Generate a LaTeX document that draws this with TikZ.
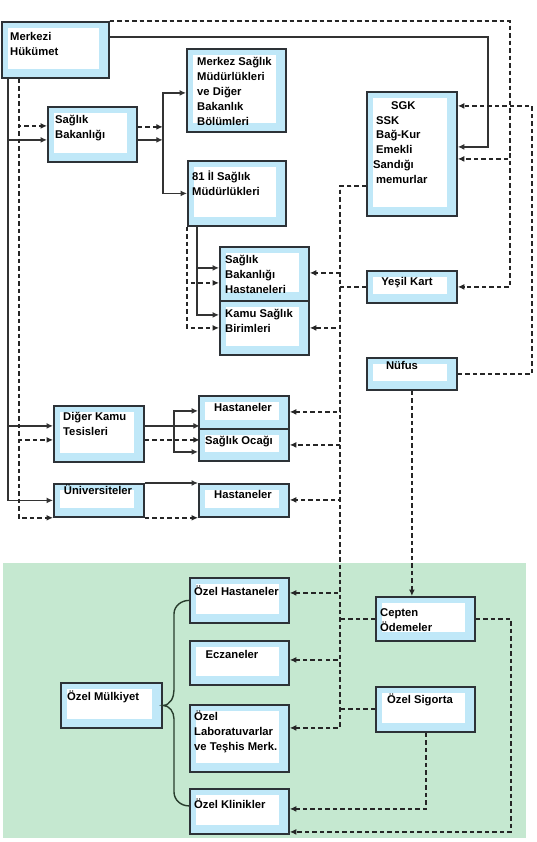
\documentclass[tikz,border=0pt]{standalone}
\usepackage{fontspec}
\setmainfont{Liberation Sans}
\usetikzlibrary{arrows.meta}
\definecolor{boxblue}{RGB}{192,232,248}
\definecolor{boxline}{RGB}{45,50,55}
\definecolor{privgreen}{RGB}{197,232,208}
\definecolor{braceline}{RGB}{40,60,45}

\begin{document}
\begin{tikzpicture}[x=1bp, y=-1bp, >={Latex[length=6.5bp,width=6bp]},
    box/.style={draw=boxline, line width=1.8bp, fill=boxblue, anchor=north west, inner sep=0pt,
      path picture={\fill[white] ([xshift=6bp,yshift=-6bp]path picture bounding box.north west)
        rectangle ([xshift=-10bp,yshift=9bp]path picture bounding box.south east);}},
    sz/.style 2 args={minimum width=#1bp, minimum height=#2bp},
    txt/.style={anchor=north west, inner sep=0pt, align=left,
      font=\bfseries\fontsize{11.3}{15}\selectfont},
    ctxt/.style={txt, anchor=north, align=center},
    sol/.style={draw=black!80, line width=1.6bp},
    dsh/.style={draw=black!85, line width=1.6bp, dash pattern=on 4.5bp off 3bp}]
  \useasboundingbox (0,0) rectangle (537,842);
  \fill[privgreen] (3,563) rectangle (526,838);

  % public side
  \node[box, sz={107}{56}] (mh) at (0.9,21) {};
  \node[box, sz={89}{55}] (sb) at (47,106) {};
  \node[box, sz={99}{83}] (msm) at (186,48) {};
  \node[box, sz={98}{65}] (il81) at (187,160) {};
  \node[box, sz={90}{124}] (sgk) at (366,91) {};
  \node[box, sz={89}{54}] (sbh) at (219,246) {};
  \node[box, sz={89}{54}] (ksb) at (219,300) {};
  \node[box, sz={90}{32}] (yk) at (366,270) {};
  \node[box, sz={90}{32}] (nuf) at (366,357) {};
  \node[box, sz={90}{56}] (dkt) at (53,405) {};
  \node[box, sz={90}{33}] (has1) at (198,395) {};
  \node[box, sz={90}{32}] (soc) at (198,428) {};
  \node[box, sz={90}{33}] (uni) at (53,483) {};
  \node[box, sz={90}{33}] (has2) at (198,483) {};
  % private side
  \node[box, sz={99}{45}] (ozh) at (189,577) {};
  \node[box, sz={99}{44}] (ecz) at (189,640) {};
  \node[box, sz={99}{67}] (ozl) at (189,704) {};
  \node[box, sz={99}{45}] (ozk) at (189,788) {};
  \node[box, sz={101}{45}] (ozm) at (60,682) {};
  \node[box, sz={99}{44}] (cep) at (375,596) {};
  \node[box, sz={99}{45}] (ozs) at (375,686) {};

  % texts
  \node[txt] (mhT) at (10,32) {Merkezi\\Hükümet};
  \node[txt] (sbT) at (55,115) {Sağlık\\Bakanlığı};
  \node[txt] (msmT) at (197,57) {Merkez Sağlık\\Müdürlükleri\\ve Diğer\\Bakanlık\\Bölümleri};
  \node[txt] (il81T) at (192,171) {81 İl Sağlık\\Müdürlükleri};
  \node[txt] (sgkT) at (376,101) {\hspace*{15bp}SGK\\SSK\\Bağ-Kur\\Emekli\\\hspace*{-3bp}Sandığı\\memurlar};
  \node[txt] (sbhT) at (225,255) {Sağlık\\Bakanlığı\\Hastaneleri};
  \node[txt] (ksbT) at (225,309) {Kamu Sağlık\\Birimleri};
  \node[ctxt] (ykT) at (407,277) {Yeşil Kart};
  \node[ctxt] (nufT) at (402,361) {Nüfus};
  \node[txt] (dktT) at (63,412) {Diğer Kamu\\Tesisleri};
  \node[ctxt] (has1T) at (243,403) {Hastaneler};
  \node[txt] (socT) at (205,436) {Sağlık Ocağı};
  \node[ctxt] (uniT) at (98,485) {Üniversiteler};
  \node[ctxt] (has2T) at (243,490) {Hastaneler};
  \node[txt] (ozhT) at (194,586) {Özel Hastaneler};
  \node[ctxt] (eczT) at (232,650) {Eczaneler};
  \node[txt] (ozlT) at (194,711) {Özel\\Laboratuvarlar\\ve Teşhis Merk.};
  \node[txt] (ozkT) at (194,799) {Özel Klinikler};
  \node[txt] (ozmT) at (67,691) {Özel Mülkiyet};
  \node[txt] (cepT) at (380,608) {Cepten\\Ödemeler};
  \node[ctxt] (ozsT) at (420,694) {Özel Sigorta};

  % Merkezi Hukumet buses
  \foreach \t/\dy in {sb/-5.5, dkt/8, uni/0}
    \draw[sol,->] ([xshift=7bp]mh.south west) |- ([yshift=\dy bp]\t.west);
  \draw[dsh,->] ([xshift=18bp]mh.south west) |- ([yshift=8.5bp]sb.west);
  \draw[dsh,->] ([xshift=18bp]mh.south west) |- ([yshift=-6bp]dkt.west);
  \draw[dsh,->] ([xshift=18bp]mh.south west) |- (uni.south west);
  \draw[sol,->] ([yshift=13bp]mh.east) -| (488,140) |- ([yshift=7bp]sgk.east);
  \draw[dsh,->] (mh.north east) -| (510,150) |- ([yshift=-5bp]sgk.east);
  \draw[dsh,->] (mh.north east) -| (510,150) |- (yk.east);
  \draw[dsh,->] (nuf.east) -| (532,200) |- ([yshift=48bp]sgk.east);

  % Saglik Bakanligi
  \draw[dsh,->] ([yshift=7.5bp]sb.east) -- ++(25,0);
  \draw[sol,->] ([yshift=-5.5bp]sb.east) -- ++(25,0);
  \draw[sol,<->] ([yshift=-2.5bp]msm.west) -| (163,140) |- (il81.west);
  \draw[sol,->] ([xshift=10bp]il81.south west) |- ([yshift=6bp]sbh.west);
  \draw[sol,->] ([xshift=10bp]il81.south west) |- ([yshift=13bp]ksb.west);
  \draw[dsh,->] (il81.south west) |- ([yshift=-9bp]sbh.west);
  \draw[dsh,->] (il81.south west) |- (ksb.west);

  % other public
  \draw[sol,->] ([yshift=8bp]dkt.east) -- ++(55,0);
  \draw[sol,<->] ([yshift=1.5bp]has1.west) -| (174,430) |- ([yshift=-7bp]soc.west);
  \draw[dsh,->] ([yshift=-6bp]dkt.east) -- ++(55,0);
  \draw[sol,->] (uni.north east) -- (has2.north west);
  \draw[dsh,->] (uni.south east) -- (has2.south west);

  % payment line
  \foreach \t/\dy in {sbh/1, ksb/0, has1/0.5, soc/0, has2/0.5, ozh/7.5, ecz/3, ozl/10.5}
    \draw[dsh,->] ([yshift=-32bp]sgk.west) -| (340,260) |- ([yshift=\dy bp]\t.east);
  \draw[dsh] (yk.west) -- ++(-26,0);
  \draw[dsh] (cep.west) -- ++(-35,0);
  \draw[dsh] ([yshift=0.5bp]ozs.west) -- ++(-35,0);
  \draw[dsh,->] (nuf.south) -- (nuf.south |- cep.north);
  \draw[dsh,->] (cep.east) -| (511,700) |- ([yshift=-20.5bp]ozk.east);
  \draw[dsh,->] ([xshift=0.5bp]ozs.south) |- ([yshift=2.5bp]ozk.east);

  % ozel mulkiyet brace
  \draw[braceline, line width=1.4bp] (ozh.west) to[out=180,in=90] (174,614) -- (174,690)
    to[out=-90,in=0] (ozm.east) to[out=0,in=90] (174,719) -- (174,792)
    to[out=-90,in=180] ([yshift=5.5bp]ozk.west);
\end{tikzpicture}
\end{document}
